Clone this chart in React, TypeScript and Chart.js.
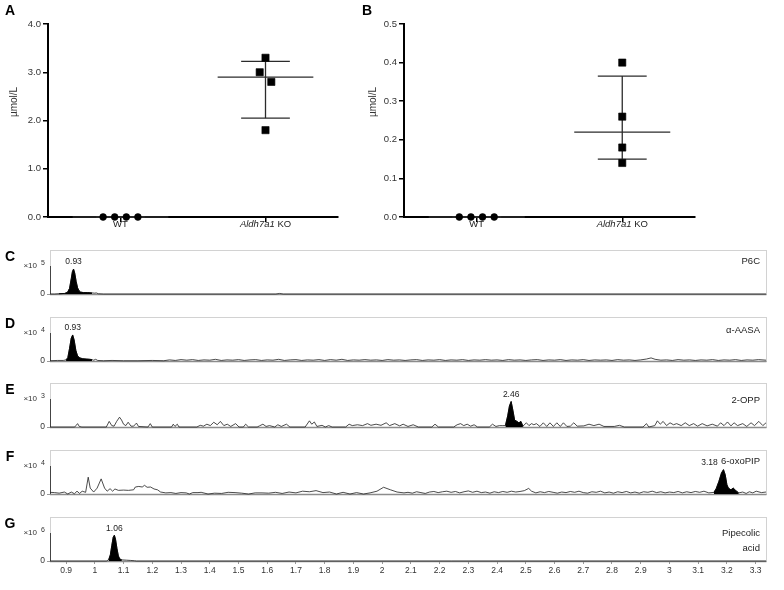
import React, { useEffect, useRef } from 'react';
import { Chart, registerables } from 'chart.js';
Chart.register(...registerables);

const FONT = '"Liberation Sans", Arial, Helvetica, sans-serif';
Chart.defaults.font.family = FONT;

// ---------- Panels A & B (dot plots) ----------
const groupNames = ['WT', 'Aldh7a1 KO'];
const groupItalic = ['', 'Aldh7a1'];
const wtValuesA = [0, 0, 0, 0];
const koValuesA = [3.3, 3.0, 2.8, 1.8];
const wtValuesB = [0, 0, 0, 0];
const koValuesB = [0.4, 0.26, 0.18, 0.14];
const yTicksA = [0, 1, 2, 3, 4];
const yTicksB = [0, 0.1, 0.2, 0.3, 0.4, 0.5];
const yAxisTitle = 'µmol/L';
const jitterWT = [-0.12, -0.04, 0.04, 0.12];
const jitterKOA = [0, -0.04, 0.04, 0];
const jitterKOB = [0, 0, 0, 0];

// ---------- Panels C–G (chromatograms, retention time in min) ----------
const xTicksLC = [0.9, 1.0, 1.1, 1.2, 1.3, 1.4, 1.5, 1.6, 1.7, 1.8, 1.9, 2.0, 2.1, 2.2, 2.3, 2.4, 2.5, 2.6, 2.7, 2.8, 2.9, 3.0, 3.1, 3.2, 3.3];
const lcLetters = ['C', 'D', 'E', 'F', 'G'];
const lcNames = [['P6C'], ['α-AASA'], ['2-OPP'], ['6-oxoPIP'], ['Pipecolic', 'acid']];
const lcExponents = [5, 4, 3, 4, 6];
const lcPeakLabels = ['0.93', '0.93', '2.46', '3.18', '1.06'];
const lcPeakWindows = [[0.875, 0.99], [0.895, 0.992], [2.429, 2.49], [3.155, 3.241], [1.044, 1.1]];

const traceP6C = [
  [0.844, 0], [0.86, 0], [0.875, 0.01], [0.895, 0.02], [0.905, 0.06], [0.912, 0.2], [0.918, 0.55], [0.922, 0.8],
  [0.926, 0.89], [0.93, 0.75], [0.935, 0.45], [0.94, 0.22], [0.945, 0.12], [0.95, 0.07], [0.96, 0.05], [0.975, 0.05],
  [0.99, 0.04], [1.0, 0.03], [1.005, 0.04], [1.012, 0.01], [1.03, 0], [1.63, 0], [1.643, 0.02], [1.656, 0], [3.336, 0],
];

const traceAASA = [
  [0.844, 0.01], [0.87, 0.02], [0.89, 0.02], [0.9, 0.04], [0.906, 0.12], [0.912, 0.45], [0.918, 0.82], [0.923, 0.93],
  [0.928, 0.75], [0.934, 0.38], [0.94, 0.18], [0.948, 0.11], [0.958, 0.08], [0.97, 0.07], [0.982, 0.06], [0.99, 0.05],
  [0.996, 0.03], [1.003, 0.06], [1.01, 0.02], [1.03, 0.01], [1.06, 0.02], [1.1, 0.01], [1.15, 0.01], [1.2, 0.02],
  [1.24, 0.01], [1.26, 0.04], [1.28, 0.02], [1.3, 0.05], [1.32, 0.03], [1.34, 0.05], [1.36, 0.02], [1.38, 0.04],
  [1.4, 0.03], [1.42, 0.06], [1.44, 0.02], [1.46, 0.04], [1.48, 0.03], [1.5, 0.05], [1.52, 0.02], [1.54, 0.04],
  [1.56, 0.05], [1.58, 0.02], [1.6, 0.04], [1.62, 0.03], [1.64, 0.06], [1.66, 0.02], [1.68, 0.04], [1.7, 0.05],
  [1.72, 0.02], [1.74, 0.04], [1.76, 0.03], [1.78, 0.05], [1.8, 0.02], [1.82, 0.05], [1.84, 0.03], [1.86, 0.06],
  [1.88, 0.02], [1.9, 0.04], [1.92, 0.03], [1.94, 0.05], [1.96, 0.03], [1.98, 0.04], [2.0, 0.02], [2.02, 0.05],
  [2.04, 0.03], [2.06, 0.04], [2.08, 0.02], [2.1, 0.04], [2.12, 0.05], [2.14, 0.02], [2.16, 0.04], [2.18, 0.03],
  [2.2, 0.05], [2.22, 0.02], [2.24, 0.04], [2.26, 0.03], [2.28, 0.05], [2.3, 0.02], [2.32, 0.04], [2.34, 0.03],
  [2.36, 0.05], [2.38, 0.03], [2.4, 0.04], [2.42, 0.02], [2.44, 0.05], [2.46, 0.03], [2.48, 0.04], [2.5, 0.02],
  [2.52, 0.04], [2.54, 0.05], [2.56, 0.02], [2.58, 0.04], [2.6, 0.03], [2.62, 0.05], [2.64, 0.02], [2.66, 0.04],
  [2.68, 0.03], [2.7, 0.05], [2.72, 0.02], [2.74, 0.04], [2.76, 0.03], [2.78, 0.04], [2.8, 0.02], [2.82, 0.05],
  [2.84, 0.03], [2.86, 0.04], [2.88, 0.02], [2.9, 0.04], [2.92, 0.07], [2.936, 0.11], [2.95, 0.06], [2.97, 0.03],
  [2.99, 0.04], [3.01, 0.02], [3.03, 0.05], [3.05, 0.03], [3.07, 0.04], [3.09, 0.02], [3.11, 0.04], [3.13, 0.03],
  [3.15, 0.05], [3.17, 0.02], [3.19, 0.04], [3.21, 0.03], [3.23, 0.05], [3.25, 0.02], [3.27, 0.04], [3.29, 0.03],
  [3.31, 0.05], [3.336, 0.03],
];

const traceOPP = [
  [0.844, 0], [0.93, 0], [0.935, 0.06], [0.94, 0.12], [0.946, 0.02], [0.955, 0], [1.04, 0], [1.05, 0.2], [1.059, 0.05],
  [1.067, 0.03], [1.076, 0.2], [1.086, 0.35], [1.093, 0.25], [1.1, 0.1], [1.108, 0.05], [1.116, 0.17], [1.126, 0.03],
  [1.135, 0.03], [1.145, 0.14], [1.152, 0.02], [1.185, 0], [1.193, 0.12], [1.2, 0], [1.267, 0], [1.273, 0.1],
  [1.279, 0.02], [1.287, 0.1], [1.293, 0], [1.355, 0], [1.367, 0.06], [1.378, 0.03], [1.39, 0.1], [1.402, 0.05],
  [1.414, 0.17], [1.426, 0.08], [1.437, 0.2], [1.449, 0.05], [1.461, 0.1], [1.473, 0.02], [1.49, 0.12], [1.502, 0],
  [1.517, 0], [1.525, 0.1], [1.535, 0], [1.565, 0], [1.573, 0.04], [1.585, 0.1], [1.596, 0.02], [1.608, 0.05],
  [1.626, 0], [1.637, 0.08], [1.649, 0.02], [1.667, 0.1], [1.679, 0], [1.732, 0], [1.747, 0.22], [1.755, 0.1],
  [1.764, 0.18], [1.773, 0.02], [1.791, 0.06], [1.802, 0], [1.814, 0.05], [1.826, 0], [1.873, 0], [1.885, 0.1],
  [1.896, 0.05], [1.914, 0.08], [1.932, 0.05], [1.949, 0.12], [1.961, 0.06], [1.979, 0.1], [1.996, 0.06],
  [2.014, 0.15], [2.026, 0.05], [2.044, 0.12], [2.061, 0.04], [2.073, 0.1], [2.09, 0.02], [2.108, 0.08], [2.126, 0],
  [2.173, 0], [2.184, 0.1], [2.196, 0], [2.249, 0], [2.261, 0.08], [2.273, 0.12], [2.284, 0.05], [2.296, 0.1],
  [2.308, 0.03], [2.32, 0.08], [2.332, 0], [2.373, 0], [2.384, 0.1], [2.396, 0.02], [2.408, 0.05], [2.42, 0.05],
  [2.429, 0.05], [2.437, 0.4], [2.443, 0.75], [2.449, 0.91], [2.455, 0.6], [2.461, 0.25], [2.469, 0.2], [2.476, 0.15],
  [2.483, 0.2], [2.49, 0.03], [2.502, 0.15], [2.511, 0.05], [2.52, 0.12], [2.528, 0.08], [2.537, 0.12], [2.549, 0.02],
  [2.561, 0.15], [2.573, 0.02], [2.584, 0.15], [2.596, 0.02], [2.608, 0.15], [2.62, 0.02], [2.631, 0.15], [2.643, 0.02],
  [2.655, 0.03], [2.667, 0.15], [2.679, 0.03], [2.702, 0.04], [2.72, 0.1], [2.737, 0.05], [2.755, 0.1], [2.772, 0.02],
  [2.808, 0.02], [2.826, 0.06], [2.843, 0], [2.908, 0], [2.92, 0.12], [2.928, 0], [2.949, 0.05], [2.958, 0.22],
  [2.968, 0.1], [2.978, 0.2], [2.99, 0.05], [3.002, 0.15], [3.014, 0.08], [3.025, 0.12], [3.041, 0.05], [3.055, 0.15],
  [3.069, 0.05], [3.084, 0.12], [3.098, 0.03], [3.114, 0.12], [3.131, 0.04], [3.149, 0.1], [3.167, 0.03], [3.178, 0.15],
  [3.19, 0.05], [3.202, 0.18], [3.214, 0.04], [3.225, 0.15], [3.237, 0.05], [3.255, 0.12], [3.269, 0.02], [3.284, 0.15],
  [3.296, 0.05], [3.311, 0.2], [3.325, 0.05], [3.336, 0.15],
];

const traceOxoPIP = [
  [0.844, 0.06], [0.86, 0.05], [0.876, 0.03], [0.894, 0.07], [0.906, 0.0], [0.918, 0.07], [0.929, 0.01], [0.938, 0.1],
  [0.947, 0.02], [0.956, 0.1], [0.968, 0.06], [0.977, 0.6], [0.984, 0.21], [0.996, 0.07], [1.008, 0.21], [1.022, 0.54],
  [1.034, 0.21], [1.043, 0.1], [1.053, 0.19], [1.062, 0.1], [1.07, 0.18], [1.082, 0.13], [1.1, 0.14], [1.117, 0.13],
  [1.135, 0.15], [1.141, 0.25], [1.153, 0.27], [1.165, 0.25], [1.173, 0.31], [1.182, 0.24], [1.194, 0.25], [1.206, 0.18],
  [1.218, 0.15], [1.229, 0.07], [1.247, 0.04], [1.265, 0.05], [1.282, 0.02], [1.3, 0.05], [1.318, 0.04], [1.329, 0.0],
  [1.341, 0.05], [1.359, 0.05], [1.37, 0.06], [1.394, 0.0], [1.417, 0.03], [1.441, 0.02], [1.464, 0.06], [1.488, 0.05],
  [1.511, 0.03], [1.535, 0.0], [1.558, 0.04], [1.582, 0.04], [1.605, 0.03], [1.629, 0.06], [1.652, 0.02], [1.676, 0.07],
  [1.7, 0.04], [1.723, 0.1], [1.747, 0.08], [1.77, 0.12], [1.794, 0.05], [1.817, 0.07], [1.841, 0.0], [1.864, 0.06],
  [1.888, 0.0], [1.911, 0.05], [1.935, 0.0], [1.958, 0.04], [1.982, 0.1], [2.005, 0.24], [2.029, 0.15], [2.052, 0.07],
  [2.076, 0.04], [2.09, 0.06], [2.105, 0.03], [2.12, 0.08], [2.135, 0.05], [2.15, 0.02], [2.165, 0.07], [2.18, 0.09],
  [2.195, 0.05], [2.21, 0.08], [2.225, 0.1], [2.24, 0.06], [2.255, 0.09], [2.27, 0.04], [2.285, 0.08], [2.3, 0.11],
  [2.315, 0.06], [2.33, 0.1], [2.345, 0.05], [2.36, 0.07], [2.375, 0.03], [2.39, 0.08], [2.405, 0.05], [2.42, 0.09],
  [2.435, 0.06], [2.45, 0.1], [2.465, 0.07], [2.48, 0.09], [2.495, 0.12], [2.51, 0.2], [2.52, 0.1], [2.535, 0.04],
  [2.55, 0.08], [2.565, 0.05], [2.58, 0.09], [2.595, 0.06], [2.61, 0.03], [2.625, 0.07], [2.64, 0.05], [2.655, 0.09],
  [2.67, 0.06], [2.685, 0.1], [2.7, 0.05], [2.715, 0.03], [2.73, 0.08], [2.745, 0.06], [2.76, 0.1], [2.775, 0.04],
  [2.79, 0.07], [2.805, 0.03], [2.82, 0.08], [2.835, 0.05], [2.85, 0.09], [2.865, 0.04], [2.88, 0.07], [2.895, 0.03],
  [2.91, 0.08], [2.925, 0.06], [2.94, 0.1], [2.955, 0.05], [2.97, 0.08], [2.985, 0.04], [3.0, 0.07], [3.015, 0.05],
  [3.03, 0.09], [3.045, 0.04], [3.06, 0.08], [3.075, 0.05], [3.09, 0.09], [3.105, 0.06], [3.12, 0.1], [3.137, 0.04],
  [3.155, 0.06], [3.163, 0.2], [3.172, 0.45], [3.181, 0.75], [3.188, 0.87], [3.194, 0.69], [3.2, 0.33], [3.205, 0.21],
  [3.214, 0.15], [3.222, 0.21], [3.231, 0.12], [3.241, 0.04], [3.255, 0.07], [3.267, 0.02], [3.278, 0.08], [3.29, 0.04],
  [3.302, 0.1], [3.32, 0.05], [3.336, 0.07],
];

const tracePipecolic = [
  [0.844, 0], [1.04, 0], [1.048, 0.04], [1.054, 0.22], [1.059, 0.55], [1.064, 0.85], [1.068, 0.92], [1.072, 0.78],
  [1.077, 0.45], [1.082, 0.18], [1.087, 0.07], [1.094, 0.04], [1.11, 0.03], [1.125, 0.02], [1.138, 0.01], [1.145, 0],
  [3.336, 0],
];

const lcTraces = [traceP6C, traceAASA, traceOPP, traceOxoPIP, tracePipecolic];

// ---------- layout (pixels) ----------
const lcBoxTops = [250, 317, 383, 450, 517];
const lcBoxHeight = 44;
const lcUnitPx = 28; // pixels from 0 to the ×10^n level
const lcNameOffsets = [11, 13, 17.5, 11, 16];
const lcPeakLabelDx = [0, 0, 0, -14, 0];
const X_MIN = 0.844;
const X_MAX = 3.336;

function prismQuantile(values: number[], p: number) {
  const s = [...values].sort((a, b) => a - b);
  const n = s.length;
  const pos = (n + 1) * p;
  if (pos <= 1) return s[0];
  if (pos >= n) return s[n - 1];
  const lo = Math.floor(pos);
  return s[lo - 1] + (pos - lo) * (s[lo] - s[lo - 1]);
}

type DotProps = {
  left: number; width: number; letter: string; letterX: number; titleX: number;
  wt: number[]; ko: number[]; koJitter: number[]; yTicks: number[]; axisWidth: number; padRight: number;
};

function DotPanel(p: DotProps) {
  const ref = useRef<HTMLCanvasElement>(null);
  useEffect(() => {
    const groups = [p.wt, p.ko];
    const plugin = {
      id: 'dotExtras',
      beforeDatasetsDraw(chart: any) {
        const { ctx } = chart;
        const xs = chart.scales.x, ys = chart.scales.y;
        ctx.save();
        ctx.strokeStyle = '#2b2b2b';
        ctx.lineWidth = 1.3;
        groups.forEach((vals, gi) => {
          const cx = gi + 0.5;
          const med = prismQuantile(vals, 0.5);
          const q1 = prismQuantile(vals, 0.25);
          const q3 = prismQuantile(vals, 0.75);
          const seg = (x1: number, y1: number, x2: number, y2: number) => {
            ctx.beginPath();
            ctx.moveTo(xs.getPixelForValue(x1), ys.getPixelForValue(y1));
            ctx.lineTo(xs.getPixelForValue(x2), ys.getPixelForValue(y2));
            ctx.stroke();
          };
          seg(cx - 0.33, med, cx + 0.33, med);
          seg(cx - 0.168, q1, cx + 0.168, q1);
          seg(cx - 0.168, q3, cx + 0.168, q3);
          seg(cx, q1, cx, q3);
        });
        ctx.restore();
      },
      afterDraw(chart: any) {
        const { ctx } = chart;
        const xs = chart.scales.x;
        const base = chart.chartArea.bottom;
        ctx.save();
        ctx.fillStyle = '#222';
        ctx.textBaseline = 'middle';
        groupNames.forEach((name, gi) => {
          const cx = xs.getPixelForValue(gi + 0.5);
          const it = groupItalic[gi];
          const rest = it ? name.slice(it.length) : name;
          ctx.font = `italic 9.5px ${FONT}`;
          const wi = it ? ctx.measureText(it).width : 0;
          ctx.font = `9.5px ${FONT}`;
          const wr = ctx.measureText(rest).width;
          let x = cx - (wi + wr) / 2;
          ctx.textAlign = 'left';
          if (it) {
            ctx.font = `italic 9.5px ${FONT}`;
            ctx.fillText(it, x, base + 7.5);
            x += wi;
          }
          ctx.font = `9.5px ${FONT}`;
          ctx.fillText(rest, x, base + 7.5);
        });
        // y title
        ctx.save();
        ctx.translate(p.titleX, 102);
        ctx.rotate(-Math.PI / 2);
        ctx.textAlign = 'center';
        ctx.font = `10px ${FONT}`;
        ctx.fillStyle = '#333';
        ctx.fillText(yAxisTitle, 0, 0);
        ctx.restore();
        // panel letter
        ctx.font = `bold 14px ${FONT}`;
        ctx.fillStyle = '#000';
        ctx.textAlign = 'center';
        ctx.fillText(p.letter, p.letterX, 11);
        ctx.restore();
      },
    };
    const yMax = p.yTicks[p.yTicks.length - 1];
    const chart = new Chart(ref.current!, {
      type: 'scatter',
      data: {
        datasets: [
          {
            data: p.wt.map((v, i) => ({ x: 0.5 + jitterWT[i], y: v })),
            pointStyle: 'circle', pointRadius: 3.4, backgroundColor: '#000', borderColor: '#000', borderWidth: 0.6,
            clip: 8,
          },
          {
            data: p.ko.map((v, i) => ({ x: 1.5 + p.koJitter[i], y: v })),
            pointStyle: 'rect', pointRadius: 5.1, backgroundColor: '#000', borderColor: '#000', borderWidth: 0.6,
            clip: 8,
          },
        ],
      },
      options: {
        animation: false, responsive: false, maintainAspectRatio: false, devicePixelRatio: 1,
        layout: { padding: { top: 24, right: p.padRight, left: 0, bottom: 0 } },
        plugins: { legend: { display: false }, tooltip: { enabled: false } },
        scales: {
          x: {
            type: 'linear', min: 0, max: 2,
            afterBuildTicks: (s: any) => { s.ticks = groupNames.map((_, i) => ({ value: i + 0.5 })); },
            ticks: { callback: () => '', autoSkip: false },
            grid: { drawOnChartArea: false, drawTicks: true, tickLength: 5, color: '#000', lineWidth: 1.5 },
            border: { display: true, color: '#000', width: 2 },
            afterFit: (s: any) => { s.height = 23; },
          },
          y: {
            type: 'linear', min: 0, max: yMax,
            afterBuildTicks: (s: any) => { s.ticks = p.yTicks.map((v) => ({ value: v })); },
            ticks: { callback: (v: any) => Number(v).toFixed(1), font: { size: 9.5 }, color: '#333', padding: 2 },
            grid: { drawOnChartArea: false, drawTicks: true, tickLength: 5, color: '#000', lineWidth: 1.5 },
            border: { display: true, color: '#000', width: 2 },
            afterFit: (s: any) => { s.width = p.axisWidth; },
          },
        },
      } as any,
      plugins: [plugin],
    });
    return () => chart.destroy();
  }, []);
  return (
    <canvas ref={ref} width={p.width} height={240}
      style={{ position: 'absolute', left: p.left, top: 0, width: p.width, height: 240 }} />
  );
}

function LCPanel({ index }: { index: number }) {
  const ref = useRef<HTMLCanvasElement>(null);
  const isLast = index === lcTraces.length - 1;
  const padTop = 8;
  const bottomSpace = isLast ? 22 : 8;
  const height = padTop + lcBoxHeight + bottomSpace;
  const top = lcBoxTops[index] - padTop;
  useEffect(() => {
    const trace = lcTraces[index];
    const [w0, w1] = lcPeakWindows[index];
    const line = trace.map(([x, y]) => ({ x, y }));
    const peak = trace.filter(([x]) => x >= w0 && x <= w1).map(([x, y]) => ({ x, y }));
    const yMax = lcBoxHeight / lcUnitPx;
    const plugin = {
      id: 'lcExtras',
      beforeDatasetsDraw(chart: any) {
        const { ctx, chartArea: a } = chart;
        const ys = chart.scales.y;
        ctx.save();
        ctx.strokeStyle = '#d2d2d2';
        ctx.lineWidth = 1;
        ctx.strokeRect(a.left + 0.5, a.top + 0.5, a.right - a.left, a.bottom - a.top);
        ctx.strokeStyle = '#8c8c8c';
        ctx.lineWidth = 1.5;
        ctx.beginPath();
        ctx.moveTo(a.left, a.bottom + 0.5);
        ctx.lineTo(a.right + 0.5, a.bottom + 0.5);
        ctx.stroke();
        ctx.strokeStyle = '#444';
        ctx.lineWidth = 1;
        ctx.beginPath();
        ctx.moveTo(a.left + 0.5, ys.getPixelForValue(1));
        ctx.lineTo(a.left + 0.5, a.bottom);
        ctx.stroke();
        ctx.restore();
      },
      afterDraw(chart: any) {
        const { ctx, chartArea: a } = chart;
        const xs = chart.scales.x, ys = chart.scales.y;
        const yUnit = ys.getPixelForValue(1);
        ctx.save();
        ctx.fillStyle = '#333';
        ctx.textBaseline = 'middle';
        ctx.textAlign = 'right';
        ctx.font = `8px ${FONT}`;
        ctx.fillText('×10', a.left - 13, yUnit);
        ctx.textAlign = 'left';
        ctx.font = `7px ${FONT}`;
        ctx.fillText(String(lcExponents[index]), a.left - 9, yUnit - 3);
        // letter
        ctx.fillStyle = '#000';
        ctx.textAlign = 'center';
        ctx.font = `bold 14px ${FONT}`;
        ctx.fillText(lcLetters[index], 10, a.top + 7);
        // compound name
        ctx.fillStyle = '#222';
        ctx.textAlign = 'right';
        ctx.font = `9.5px ${FONT}`;
        lcNames[index].forEach((ln, li) => {
          ctx.fillText(ln, a.right - 6, a.top + lcNameOffsets[index] + li * 15);
        });
        // peak label
        let best = peak[0];
        peak.forEach((pt) => { if (pt.y > best.y) best = pt; });
        const px = xs.getPixelForValue(best.x);
        const py = ys.getPixelForValue(best.y);
        ctx.textAlign = 'center';
        ctx.font = `8.5px ${FONT}`;
        ctx.fillText(lcPeakLabels[index], px + lcPeakLabelDx[index], py - 7);
        ctx.restore();
      },
    };
    const chart = new Chart(ref.current!, {
      type: 'line',
      data: {
        datasets: [
          { data: line, borderColor: '#1e1e1e', borderWidth: 0.8, pointRadius: 0, fill: false, tension: 0, order: 2, clip: 3 },
          { data: peak, borderColor: '#000', backgroundColor: '#000', borderWidth: 0.8, pointRadius: 0, fill: 'origin', tension: 0, order: 1, clip: 3 },
        ],
      },
      options: {
        animation: false, responsive: false, maintainAspectRatio: false, devicePixelRatio: 1,
        layout: { padding: { top: padTop, right: 18, left: 0, bottom: isLast ? 0 : bottomSpace } },
        plugins: { legend: { display: false }, tooltip: { enabled: false } },
        scales: {
          x: {
            type: 'linear', min: X_MIN, max: X_MAX, display: isLast,
            afterBuildTicks: (s: any) => { s.ticks = xTicksLC.map((v) => ({ value: v })); },
            ticks: {
              callback: (v: any) => String(parseFloat(Number(v).toFixed(1))),
              autoSkip: false, maxRotation: 0, font: { size: 8.5 }, color: '#333', padding: 2,
            },
            grid: { drawOnChartArea: false, drawTicks: true, tickLength: 3, color: '#999' },
            border: { display: false },
            afterFit: (s: any) => { s.height = isLast ? bottomSpace : 0; },
          },
          y: {
            type: 'linear', min: 0, max: yMax,
            afterBuildTicks: (s: any) => { s.ticks = [{ value: 0 }]; },
            ticks: { callback: () => '0', font: { size: 8.5 }, color: '#333', padding: 2 },
            grid: { drawOnChartArea: false, drawTicks: true, tickLength: 3, color: '#999' },
            border: { display: false },
            afterFit: (s: any) => { s.width = 50; },
          },
        },
      } as any,
      plugins: [plugin],
    });
    return () => chart.destroy();
  }, []);
  return (
    <canvas ref={ref} width={784} height={height}
      style={{ position: 'absolute', left: 0, top, width: 784, height }} />
  );
}

export default function App() {
  return (
    <div style={{ position: 'absolute', left: 0, top: 0, width: 784, height: 590, background: '#fff', overflow: 'hidden' }}>
      <DotPanel left={0} width={350} letter="A" letterX={10} titleX={14} wt={wtValuesA} ko={koValuesA}
        koJitter={jitterKOA} yTicks={yTicksA} axisWidth={48} padRight={12} />
      <DotPanel left={355} width={375} letter="B" letterX={12} titleX={18} wt={wtValuesB} ko={koValuesB}
        koJitter={jitterKOB} yTicks={yTicksB} axisWidth={49} padRight={35} />
      {lcTraces.map((_, i) => <LCPanel key={i} index={i} />)}
    </div>
  );
}
